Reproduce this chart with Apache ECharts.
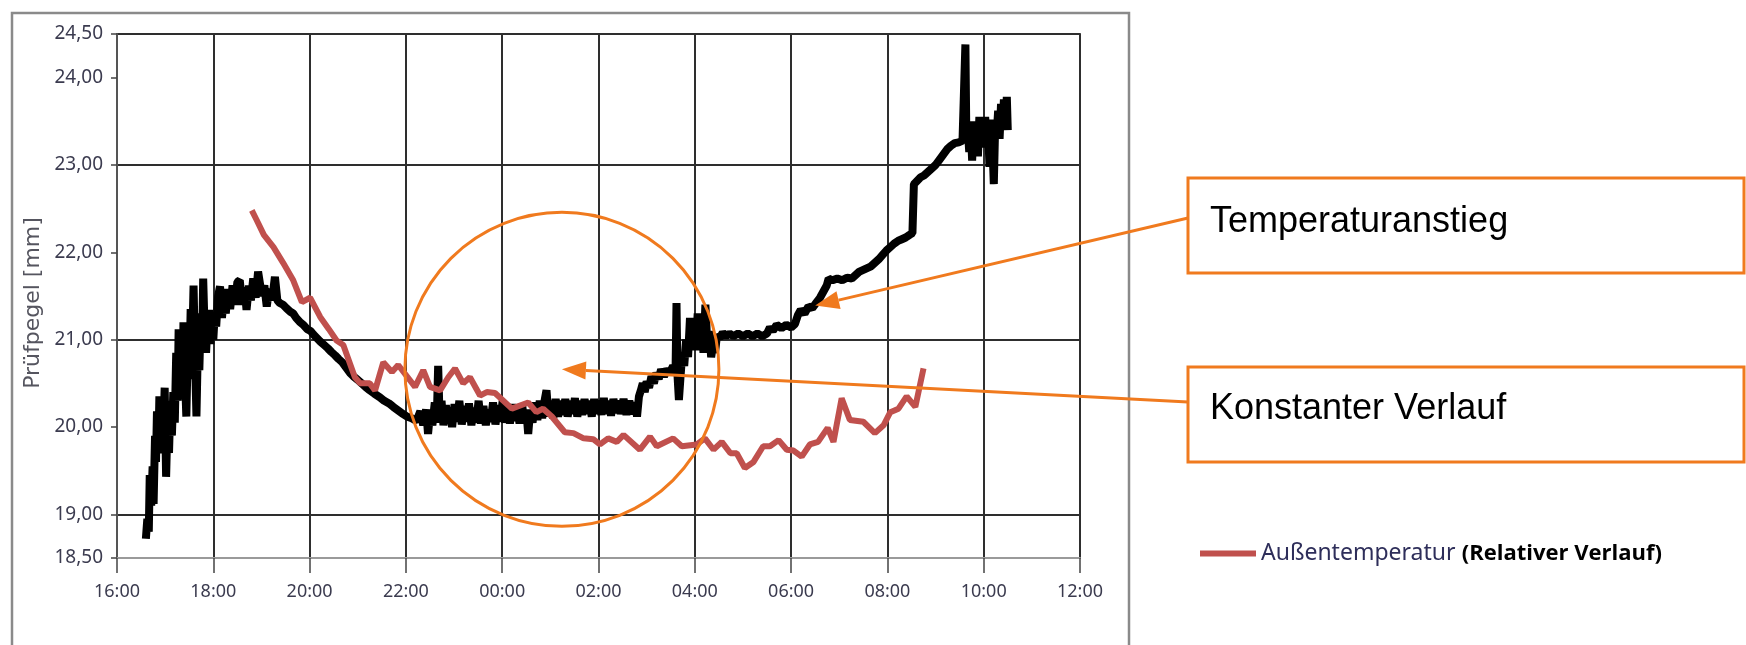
<!DOCTYPE html>
<html><head><meta charset="utf-8">
<script src="https://cdn.jsdelivr.net/npm/echarts@6/dist/echarts.min.js"></script>
<style>html,body{margin:0;padding:0;background:#fff}#c{width:1746px;height:645px}</style>
</head><body><div id="c"></div>
<script>
// ---- axis / labels ----
const xMin = 16, xMax = 36, xStep = 2;          // hours (16:00 .. 12:00 next day)
const yMin = 18.5, yMax = 24.5, yStep = 0.5;
const yLabelValues = [18.5, 19, 20, 21, 22, 23, 24, 24.5];
const yAxisTitle = 'Prüfpegel [mm]';
const seriesName = 'Außentemperatur';
const legendNote = '(Relativer Verlauf)';
const noteRise = 'Temperaturanstieg';
const noteConst = 'Konstanter Verlauf';
// annotation anchors in data coordinates
const circleCenter = [25.24, 20.66];
const riseTip = [30.5, 21.39];

// ---- Prüfpegel (black) : [hour, mm] ----
const pegelData = [
[16.60,18.72],[16.63,18.95],[16.66,18.80],[16.68,19.45],[16.71,19.10],[16.74,19.55],[16.76,19.12],[16.79,19.90],[16.81,19.60],[16.83,20.18],
[16.86,19.75],[16.88,20.35],[16.90,19.70],[16.93,20.05],[16.96,19.85],[16.99,20.45],[17.02,19.43],[17.05,20.10],[17.08,19.70],[17.11,20.30],
[17.14,19.90],[17.17,20.40],[17.20,20.05],[17.23,20.85],[17.26,20.30],[17.28,21.12],[17.31,20.50],[17.34,20.95],[17.36,20.40],[17.38,21.20],
[17.41,20.60],[17.44,20.12],[17.47,20.90],[17.50,20.55],[17.53,21.35],[17.56,20.90],[17.59,21.62],[17.62,20.80],[17.65,20.12],[17.68,20.95],
[17.71,20.65],[17.74,21.30],[17.77,20.95],[17.79,21.70],[17.82,21.10],[17.85,20.85],[17.88,21.20],[17.91,21.34],[17.94,20.95],[17.97,21.25],
[18.00,21.00],[18.03,21.30],[18.06,21.15],[18.10,21.50],[18.14,21.61],[18.18,21.25],[18.22,21.50],[18.26,21.30],[18.30,21.58],[18.35,21.35],
[18.40,21.62],[18.45,21.40],[18.50,21.66],[18.55,21.68],[18.60,21.40],[18.65,21.60],[18.69,21.34],[18.74,21.62],[18.78,21.45],[18.83,21.70],
[18.88,21.48],[18.93,21.78],[18.97,21.80],[19.01,21.50],[19.06,21.62],[19.11,21.38],[19.16,21.58],[19.22,21.45],[19.28,21.72],[19.33,21.45],
[19.38,21.42],[19.45,21.40],[19.52,21.36],[19.60,21.32],[19.66,21.30],[19.72,21.25],[19.80,21.20],[19.87,21.17],[19.95,21.12],[20.02,21.10],
[20.08,21.06],[20.15,21.02],[20.22,20.98],[20.30,20.94],[20.38,20.90],[20.45,20.86],[20.53,20.82],[20.60,20.78],[20.68,20.74],[20.76,20.68],
[20.84,20.62],[20.91,20.58],[21.00,20.54],[21.08,20.50],[21.16,20.46],[21.25,20.42],[21.35,20.38],[21.46,20.34],[21.55,20.30],[21.65,20.27],
[21.74,20.23],[21.84,20.19],[21.94,20.15],[22.02,20.12],[22.12,20.10],[22.22,20.07],
[22.30,20.18],[22.36,20.02],[22.42,20.20],[22.46,19.92],[22.50,20.15],[22.55,20.02],[22.60,20.28],[22.64,20.05],[22.67,20.70],[22.70,20.10],
[22.74,20.30],[22.78,20.02],[22.83,20.25],[22.87,20.04],[22.91,20.22],[22.96,20.00],[23.01,20.26],[23.06,20.06],[23.11,20.30],[23.16,20.03],
[23.21,20.24],[23.26,20.06],[23.31,20.27],[23.36,20.02],[23.41,20.22],[23.46,20.05],[23.51,20.30],[23.56,20.04],[23.61,20.24],[23.66,20.02],
[23.71,20.20],[23.76,20.06],[23.81,20.28],[23.86,20.03],[23.91,20.25],[23.96,20.06],[24.01,20.30],[24.06,20.05],[24.11,20.23],[24.16,20.04],
[24.21,20.26],[24.26,20.07],[24.31,20.22],[24.36,20.04],[24.41,20.27],[24.46,20.05],[24.50,20.20],[24.54,19.92],[24.58,20.18],[24.63,20.05],
[24.68,20.28],[24.73,20.08],[24.78,20.30],[24.83,20.10],[24.88,20.30],[24.92,20.42],[24.96,20.12],[25.01,20.30],[25.06,20.10],[25.11,20.32],
[25.16,20.12],[25.21,20.30],[25.26,20.14],[25.31,20.32],[25.36,20.12],[25.41,20.30],[25.46,20.15],[25.51,20.33],[25.56,20.12],[25.61,20.30],
[25.66,20.14],[25.71,20.32],[25.76,20.15],[25.81,20.30],[25.86,20.12],[25.91,20.32],[25.96,20.15],[26.01,20.30],[26.06,20.14],[26.11,20.33],
[26.16,20.15],[26.21,20.30],[26.26,20.13],[26.31,20.32],[26.36,20.16],[26.41,20.30],[26.46,20.15],[26.52,20.32],[26.58,20.14],[26.64,20.30],
[26.70,20.15],[26.76,20.28],[26.80,20.12],[26.84,20.35],[26.88,20.42],[26.92,20.50],[26.96,20.40],[27.00,20.52],[27.05,20.45],[27.10,20.58],
[27.15,20.50],[27.20,20.62],[27.25,20.55],[27.30,20.66],[27.36,20.58],[27.42,20.66],[27.48,20.62],[27.55,20.70],[27.60,20.62],[27.62,21.42],
[27.64,20.60],[27.67,20.31],[27.70,20.55],[27.74,20.85],[27.78,20.70],[27.82,21.00],[27.86,20.80],[27.90,21.25],[27.94,20.90],[27.98,21.10],
[28.02,20.88],[28.06,21.30],[28.10,20.95],[28.14,21.20],[28.18,20.85],[28.22,21.40],[28.26,20.95],[28.30,21.10],[28.34,20.80],[28.38,20.95],
[28.42,20.85],[28.46,21.05],[28.52,21.02],[28.58,21.08],[28.65,21.04],[28.72,21.07],[28.80,21.04],[28.90,21.07],[29.00,21.04],[29.10,21.07],
[29.20,21.04],[29.30,21.07],[29.40,21.04],[29.50,21.07],[29.56,21.14],[29.62,21.10],[29.70,21.17],[29.80,21.13],[29.90,21.17],[30.00,21.14],
[30.08,21.18],[30.14,21.28],[30.20,21.34],[30.28,21.30],[30.36,21.38],[30.44,21.36],[30.52,21.42],[30.60,21.48],[30.68,21.56],[30.74,21.62],
[30.78,21.70],[30.86,21.68],[30.96,21.70],[31.06,21.68],[31.16,21.71],[31.26,21.70],[31.34,21.74],[31.42,21.78],[31.50,21.80],[31.58,21.82],
[31.66,21.84],[31.74,21.88],[31.82,21.92],[31.90,21.97],[31.98,22.02],[32.06,22.06],[32.14,22.10],[32.22,22.13],[32.30,22.15],[32.38,22.17],
[32.46,22.20],[32.52,22.22],[32.55,22.78],[32.62,22.82],[32.69,22.86],[32.76,22.88],[32.84,22.92],[32.92,22.96],[33.00,23.00],[33.08,23.06],
[33.16,23.12],[33.24,23.18],[33.32,23.22],[33.40,23.25],[33.48,23.26],[33.56,23.28],[33.60,23.30],[33.62,24.38],[33.64,23.30],[33.67,23.40],
[33.70,23.15],[33.73,23.45],[33.76,23.05],[33.79,23.50],[33.82,23.20],[33.85,23.42],[33.88,23.10],[33.91,23.55],[33.94,23.25],[33.97,23.48],
[34.00,23.20],[34.03,23.55],[34.06,23.30],[34.09,23.45],[34.12,22.98],[34.15,23.52],[34.18,23.25],[34.21,22.78],[34.24,23.50],[34.27,23.35],
[34.30,23.62],[34.33,23.30],[34.36,23.70],[34.39,23.40],[34.42,23.75],[34.45,23.45],[34.48,23.78],[34.50,23.40]
];

// ---- Außentemperatur (red, relative) : [hour, value on same scale] ----
const tempData = [
[18.80,22.48],[18.90,22.37],[19.05,22.20],[19.25,22.06],[19.45,21.88],[19.66,21.68],[19.84,21.43],[20.01,21.48],[20.22,21.26],[20.40,21.12],
[20.56,20.99],[20.70,20.94],[20.94,20.57],[21.05,20.50],[21.25,20.50],[21.36,20.42],[21.53,20.74],[21.71,20.63],[21.84,20.71],[22.19,20.46],
[22.36,20.65],[22.50,20.46],[22.71,20.42],[22.88,20.57],[23.02,20.67],[23.19,20.50],[23.33,20.57],[23.54,20.36],[23.68,20.40],[23.85,20.39],
[24.20,20.21],[24.54,20.28],[24.71,20.17],[24.85,20.21],[25.03,20.12],[25.30,19.94],[25.48,19.93],[25.69,19.87],[25.89,19.86],[26.03,19.80],
[26.20,19.87],[26.38,19.83],[26.52,19.91],[26.86,19.74],[27.07,19.89],[27.21,19.78],[27.55,19.87],[27.73,19.78],[28.04,19.80],[28.21,19.87],
[28.39,19.74],[28.56,19.83],[28.74,19.70],[28.87,19.70],[29.04,19.53],[29.22,19.60],[29.42,19.78],[29.56,19.78],[29.74,19.85],[29.91,19.74],
[30.05,19.73],[30.22,19.66],[30.39,19.80],[30.56,19.83],[30.76,19.99],[30.88,19.83],[31.05,20.33],[31.22,20.08],[31.50,20.06],[31.74,19.93],
[31.92,20.02],[32.06,20.17],[32.23,20.21],[32.40,20.35],[32.58,20.23],[32.75,20.67]
];

const fmtHour = h => String(((h % 24) + 24) % 24).padStart(2, '0') + ':00';
const fmtMm = v => v.toFixed(2).replace('.', ',');

const chart = echarts.init(document.getElementById('c'), null, {renderer: 'canvas'});
chart.setOption({
  animation: false,
  backgroundColor: '#fff',
  textStyle: {fontFamily: 'Noto Sans'},
  grid: {left: 117, top: 34, width: 963, height: 524, show: true, borderColor: '#555', borderWidth: 2, backgroundColor: 'transparent'},
  xAxis: {
    type: 'value', min: xMin, max: xMax, interval: xStep,
    axisLine: {show: true, onZero: false, lineStyle: {color: '#9a9a9a', width: 2}},
    axisTick: {show: true, length: 15, lineStyle: {color: '#444', width: 1.5}},
    axisLabel: {formatter: fmtHour, fontSize: 18, color: '#3b3b4f', margin: 25},
    splitLine: {show: true, lineStyle: {color: '#2e2e2e', width: 2}}
  },
  yAxis: {
    type: 'value', min: yMin, max: yMax, interval: yStep,
    axisLine: {show: true, lineStyle: {color: '#555', width: 2}},
    axisTick: {show: true, length: 6, customValues: yLabelValues, lineStyle: {color: '#444', width: 1.5}},
    axisLabel: {customValues: yLabelValues, formatter: v => yLabelValues.indexOf(v) >= 0 ? fmtMm(v) : '', fontSize: 19, color: '#3b3b4f', margin: 14},
    splitLine: {show: true, lineStyle: {color: ['transparent', '#2e2e2e'], width: 2}}
  },
  legend: {
    data: [seriesName], left: 1200, top: 542, padding: 0,
    icon: 'rect', itemWidth: 56, itemHeight: 6,
    formatter: n => '{a|' + n + '}  {b|' + legendNote + '}',
    textStyle: {rich: {
      a: {fontFamily: 'Noto Sans', fontSize: 23, color: '#2e2e5a'},
      b: {fontFamily: 'Open Sans', fontSize: 22, fontWeight: 'bold', color: '#000'}
    }}
  },
  series: [
    {type: 'line', name: 'Prüfpegel', data: pegelData, showSymbol: false, z: 3,
     lineStyle: {color: '#000', width: 8}, itemStyle: {color: '#000'}},
    {type: 'line', name: seriesName, data: tempData, showSymbol: false, z: 4,
     lineStyle: {color: '#c0504d', width: 6}, itemStyle: {color: '#c0504d'}}
  ]
});

const ORANGE = '#f07a1e';
function arrow(from, to) {
  const dx = to[0] - from[0], dy = to[1] - from[1];
  const L = Math.hypot(dx, dy), ux = dx / L, uy = dy / L;
  const hl = 24, hw = 9;
  const bx = to[0] - ux * hl, by = to[1] - uy * hl;
  return [
    {type: 'line', z: 100, shape: {x1: from[0], y1: from[1], x2: bx, y2: by}, style: {stroke: ORANGE, lineWidth: 3}},
    {type: 'polygon', z: 100, shape: {points: [[to[0], to[1]], [bx - uy * hw, by + ux * hw], [bx + uy * hw, by - ux * hw]]}, style: {fill: ORANGE}}
  ];
}
const cc = chart.convertToPixel({gridIndex: 0}, circleCenter);
const rt = chart.convertToPixel({gridIndex: 0}, riseTip);
const box1 = {x: 1188, y: 178, w: 556, h: 95};
const box2 = {x: 1188, y: 367, w: 556, h: 95};
const g = [
  {type: 'rect', z: 1, shape: {x: 12, y: 13, width: 1117, height: 700}, style: {fill: 'none', stroke: '#8a8a8a', lineWidth: 2.5}},
  {type: 'text', z: 100, x: 33, y: 303, rotation: Math.PI / 2,
   style: {text: yAxisTitle, fontFamily: 'DejaVu Sans', fontSize: 22, fill: '#55555f', align: 'center', verticalAlign: 'middle'}},
  {type: 'circle', z: 100, shape: {cx: cc[0], cy: cc[1], r: 157}, style: {fill: 'none', stroke: ORANGE, lineWidth: 3}},
  {type: 'rect', z: 100, shape: {x: box1.x, y: box1.y, width: box1.w, height: box1.h}, style: {fill: '#fff', stroke: ORANGE, lineWidth: 3}},
  {type: 'rect', z: 100, shape: {x: box2.x, y: box2.y, width: box2.w, height: box2.h}, style: {fill: '#fff', stroke: ORANGE, lineWidth: 3}},
  {type: 'text', z: 101, x: 1210, y: 222, style: {text: noteRise, fontFamily: 'Liberation Sans', fontSize: 36, fill: '#000', align: 'left', verticalAlign: 'middle'}},
  {type: 'text', z: 101, x: 1210, y: 409, style: {text: noteConst, fontFamily: 'Liberation Sans', fontSize: 36, fill: '#000', align: 'left', verticalAlign: 'middle'}}
].concat(arrow([box1.x, 218], rt), arrow([box2.x, 402], cc));
chart.setOption({graphic: g});
</script></body></html>
